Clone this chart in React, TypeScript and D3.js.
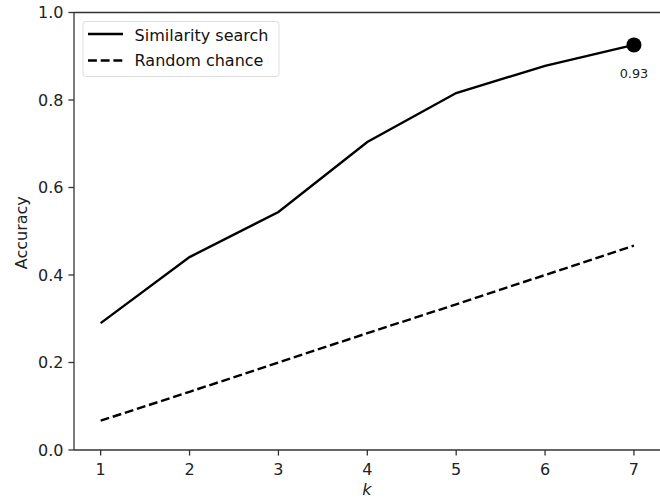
import React from "react";
import * as d3 from "d3";

const kValues = [1, 2, 3, 4, 5, 6, 7];
const similarity = [0.29, 0.441, 0.544, 0.704, 0.816, 0.878, 0.926];
const randomChance = [0.067, 0.133, 0.2, 0.267, 0.333, 0.4, 0.467];
const yTicks = [0.0, 0.2, 0.4, 0.6, 0.8, 1.0];
const finalLabel = "0.93";

const W = 660;
const H = 498;
const left = 74;
const top = 12.5;
const bottom = 450;

export default function App() {
  const x = d3.scaleLinear().domain([0.7, 7.3]).range([left, 660.6]);
  const y = d3.scaleLinear().domain([0, 1]).range([bottom, top]);
  const line = d3
    .line<number>()
    .x((_, i) => x(kValues[i]))
    .y((d) => y(d));
  const font = "DejaVu Sans, sans-serif";
  const lastK = kValues[kValues.length - 1];
  const lastV = similarity[similarity.length - 1];
  const dash = "8.9 3.8";
  return (
    <svg
      width={W}
      height={H}
      style={{ position: "fixed", left: 0, top: 0, background: "#fff" }}
      fontFamily={font}
    >
      <rect x={0} y={0} width={W} height={H} fill="#fff" />
      <path d={line(randomChance) || ""} fill="none" stroke="#000" strokeWidth={2.4} strokeDasharray={dash} />
      <path d={line(similarity) || ""} fill="none" stroke="#000" strokeWidth={2.4} />
      <circle cx={x(lastK)} cy={y(lastV)} r={7.5} fill="#000" />
      <text x={x(lastK)} y={78} textAnchor="middle" fontSize={12.8} fill="#222">
        {finalLabel}
      </text>
      {/* spines */}
      <line x1={left} x2={left} y1={top} y2={bottom} stroke="#333" strokeWidth={1.3} />
      <line x1={left} x2={W} y1={bottom} y2={bottom} stroke="#333" strokeWidth={1.3} />
      <line x1={left} x2={W} y1={top} y2={top} stroke="#333" strokeWidth={1.3} />
      {/* x ticks */}
      {kValues.map((k) => (
        <g key={k}>
          <line x1={x(k)} x2={x(k)} y1={bottom} y2={bottom + 5.6} stroke="#333" strokeWidth={1.3} />
          <text x={x(k)} y={bottom + 25} textAnchor="middle" fontSize={16} fill="#222">
            {k}
          </text>
        </g>
      ))}
      {yTicks.map((t) => (
        <g key={t}>
          <line x1={left - 5.6} x2={left} y1={y(t)} y2={y(t)} stroke="#333" strokeWidth={1.3} />
          <text x={left - 10.5} y={y(t) + 5.8} textAnchor="end" fontSize={16} fill="#222">
            {t.toFixed(1)}
          </text>
        </g>
      ))}
      <text x={(left + 660) / 2} y={495} textAnchor="middle" fontSize={16} fontStyle="italic" fill="#222">
        k
      </text>
      <text
        transform={`translate(27, ${(top + bottom) / 2 + 1.5}) rotate(-90)`}
        textAnchor="middle"
        fontSize={16}
        fill="#222"
      >
        Accuracy
      </text>
      {/* legend */}
      <rect x={83} y={21.5} width={196} height={55} rx={3} fill="#fff" stroke="#ddd" strokeWidth={1} />
      <line x1={88} x2={123} y1={34} y2={34} stroke="#000" strokeWidth={2.4} />
      <text x={134.6} y={41} fontSize={16} fill="#111">Similarity search</text>
      <line x1={88} x2={123} y1={60.5} y2={60.5} stroke="#000" strokeWidth={2.4} strokeDasharray={dash} />
      <text x={134.6} y={66} fontSize={16} fill="#111">Random chance</text>
    </svg>
  );
}
